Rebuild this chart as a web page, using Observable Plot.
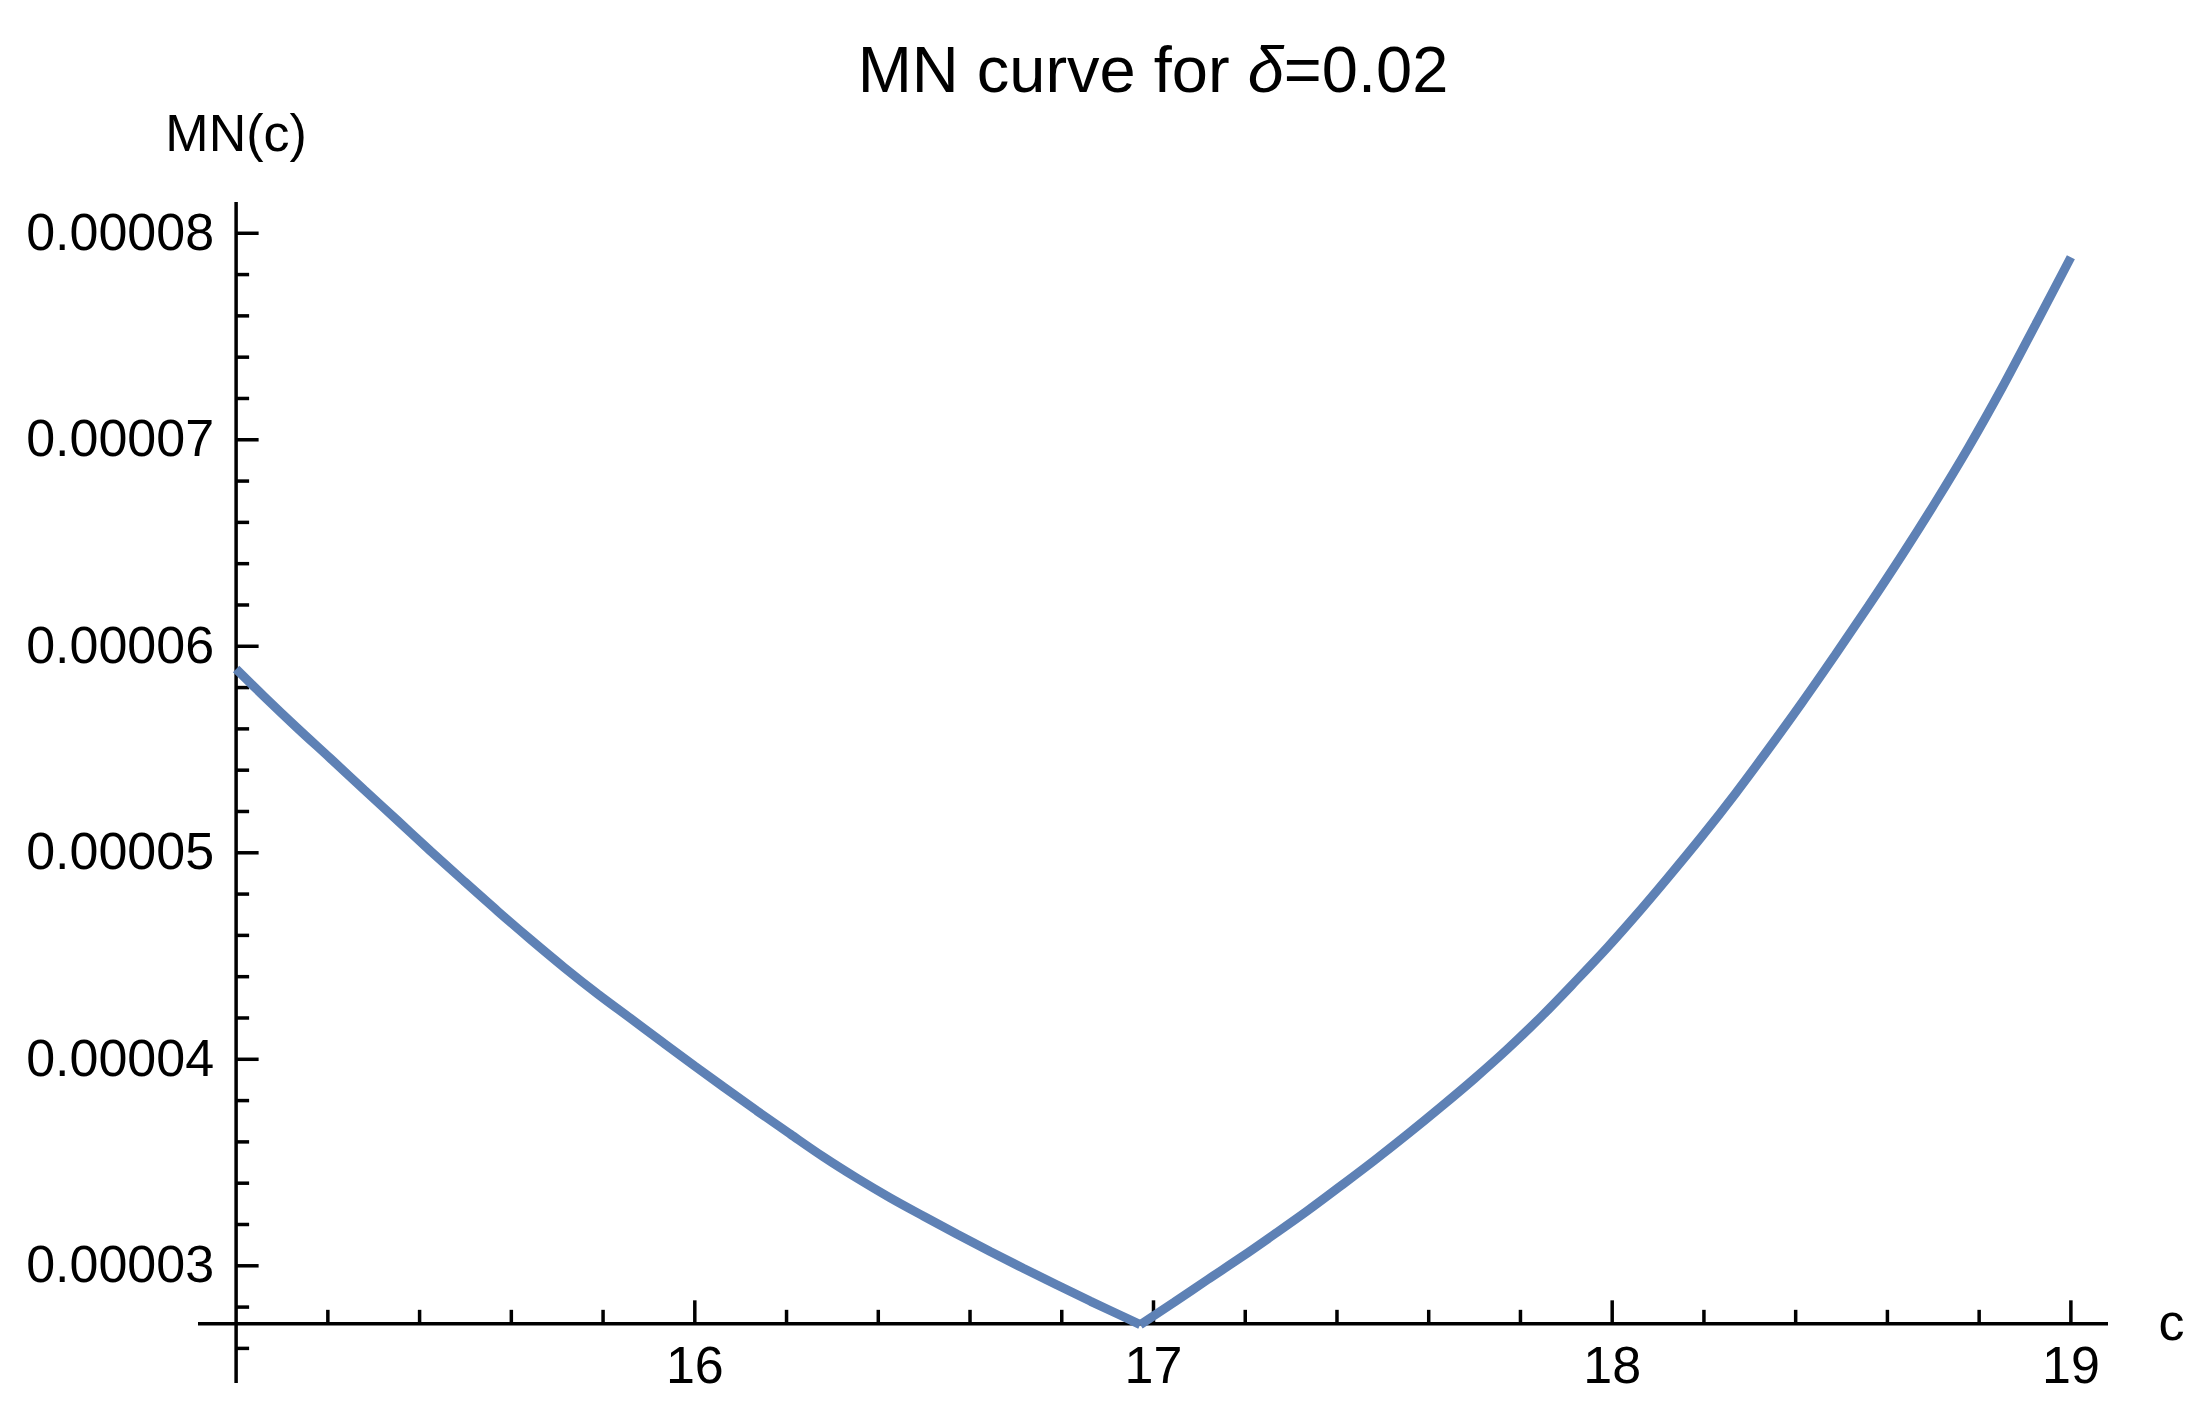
<!DOCTYPE html>
<html>
<head>
<meta charset="utf-8">
<script src="https://cdn.jsdelivr.net/npm/d3@7"></script>
<script src="https://cdn.jsdelivr.net/npm/@observablehq/plot@0.6"></script>
<style>
  body { margin: 0; background: white; }
  #chart { position: relative; width: 2200px; height: 1411px; font-family: "Liberation Sans", Arial, sans-serif; }
  #title { position: absolute; left: 198px; width: 1910px; top: 37px; text-align: center; font-size: 65px; line-height: 65px; color: black; }
</style>
</head>
<body>
<div id="chart"><div id="title">MN curve for <i>δ</i>=0.02</div></div>
<script>
// curve (MN in units of 1e-5)
const cValues = [15.000, 15.061, 15.133, 15.206, 15.279, 15.351, 15.424, 15.497, 15.570, 15.642, 15.715, 15.788, 15.860, 15.933,
  16.000, 16.062, 16.135, 16.208, 16.280, 16.353, 16.426, 16.499, 16.572, 16.645, 16.717, 16.790, 16.863, 16.936,
  16.971,
  17.045, 17.118, 17.191, 17.263, 17.336, 17.409, 17.482, 17.555, 17.627, 17.700, 17.773, 17.846, 17.918, 17.991,
  18.049, 18.122, 18.195, 18.268, 18.340, 18.413, 18.486, 18.559, 18.632, 18.704, 18.777, 18.850, 18.923, 19.000];
const mnValues = [5.890, 5.757, 5.605, 5.456, 5.305, 5.158, 5.008, 4.862, 4.718, 4.580, 4.445, 4.317, 4.198, 4.077,
  3.967, 3.867, 3.751, 3.638, 3.528, 3.425, 3.329, 3.240, 3.153, 3.068, 2.987, 2.907, 2.828, 2.752,
  2.715,
  2.823, 2.933, 3.041, 3.152, 3.267, 3.388, 3.511, 3.639, 3.770, 3.907, 4.052, 4.208, 4.373, 4.545,
  4.690, 4.881, 5.078, 5.285, 5.500, 5.725, 5.958, 6.196, 6.442, 6.695, 6.964, 7.252, 7.558, 7.884].map(v => v * 1e-5);

const xTickValues = [16, 17, 18, 19];
const xTickLabels = ["16", "17", "18", "19"];
const xMinorTicks = [15.2, 15.4, 15.6, 15.8, 16.2, 16.4, 16.6, 16.8, 17.2, 17.4, 17.6, 17.8, 18.2, 18.4, 18.6, 18.8];
const yTickValues = [3e-5, 4e-5, 5e-5, 6e-5, 7e-5, 8e-5];
const yTickLabels = ["0.00003", "0.00004", "0.00005", "0.00006", "0.00007", "0.00008"];
const yMinorTicks = [2.6e-5, 2.8e-5, 3.2e-5, 3.4e-5, 3.6e-5, 3.8e-5, 4.2e-5, 4.4e-5, 4.6e-5, 4.8e-5,
  5.2e-5, 5.4e-5, 5.6e-5, 5.8e-5, 6.2e-5, 6.4e-5, 6.6e-5, 6.8e-5, 7.2e-5, 7.4e-5, 7.6e-5, 7.8e-5];

const xDomain = [14.918, 19.082];
const yDomain = [2.43e-5, 8.149e-5];
const xOrigin = 15;
const yOrigin = 2.719e-5;
const cKink = 16.971; // corner of the V

const curve = cValues.map((c, i) => ({c, mn: mnValues[i]}));
const leftBranch = curve.filter(d => d.c <= cKink);
const rightBranch = curve.filter(d => d.c >= cKink);
const xTicks = xTickValues.map((v, i) => ({v, label: xTickLabels[i]}));
const yTicks = yTickValues.map((v, i) => ({v, label: yTickLabels[i]}));

const font = "Liberation Sans, Arial, sans-serif";
const axisW = 3.5;
const lineStyle = {x: "c", y: "mn", stroke: "#5E81B5", strokeWidth: 9, strokeLinejoin: "miter", strokeLinecap: "butt", curve: "monotone-x"};

const chart = Plot.plot({
  width: 2200,
  height: 1411,
  marginLeft: 198,
  marginRight: 92,
  marginTop: 202,
  marginBottom: 28,
  x: {domain: xDomain, axis: null},
  y: {domain: yDomain, axis: null},
  style: {fontFamily: font, background: "white", color: "black"},
  marks: [
    // axes
    Plot.ruleY([yOrigin], {stroke: "black", strokeWidth: axisW}),
    Plot.ruleX([xOrigin], {stroke: "black", strokeWidth: axisW}),
    // x ticks
    Plot.ruleX(xTicks, {x: "v", y1: () => yOrigin, y2: () => yOrigin, insetTop: -23, stroke: "black", strokeWidth: axisW}),
    Plot.ruleX(xMinorTicks, {x: d => d, y1: () => yOrigin, y2: () => yOrigin, insetTop: -13.5, stroke: "black", strokeWidth: axisW}),
    // y ticks
    Plot.ruleY(yTicks, {y: "v", x1: () => xOrigin, x2: () => xOrigin, insetRight: -23, stroke: "black", strokeWidth: axisW}),
    Plot.ruleY(yMinorTicks, {y: d => d, x1: () => xOrigin, x2: () => xOrigin, insetRight: -13.5, stroke: "black", strokeWidth: axisW}),
    // the curve, drawn as two branches meeting at the corner
    Plot.line(leftBranch, lineStyle),
    Plot.line(rightBranch, lineStyle),
    // tick labels
    Plot.text(xTicks, {x: "v", y: () => yOrigin, text: "label", lineAnchor: "top", dy: 22, fontSize: 52, fill: "black"}),
    Plot.text(yTicks, {x: () => xOrigin, y: "v", text: "label", textAnchor: "end", dx: -22, fontSize: 52, fill: "black"}),
    // axis labels
    Plot.text(["MN(c)"], {x: () => xOrigin, y: () => yDomain[1], text: d => d, lineAnchor: "bottom", dy: -52, fontSize: 52, fill: "black"}),
    Plot.text(["c"], {x: () => xDomain[1], y: () => yOrigin, text: d => d, textAnchor: "start", dx: 50, fontSize: 52, fill: "black"})
  ]
});

document.getElementById("chart").prepend(chart);
</script>
</body>
</html>
